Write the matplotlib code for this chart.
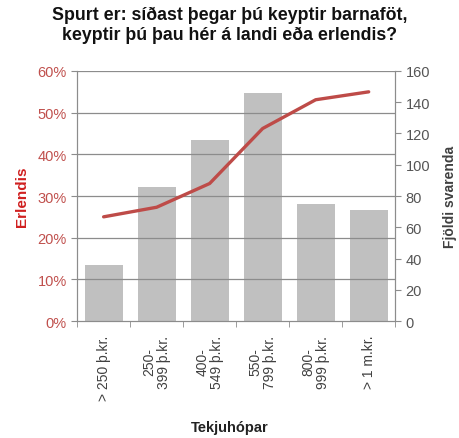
import matplotlib.pyplot as plt
import numpy as np

plt.rcParams['font.family'] = ['Liberation Sans', 'DejaVu Sans']

# Data
categories = ['> 250 þ.kr.', '250-\n399 þ.kr.', '400-\n549 þ.kr.',
              '550-\n799 þ.kr.', '800-\n999 þ.kr.', '> 1 m.kr.']
respondents = [36, 86, 116, 146, 75, 71]          # right axis, bars
abroad_pct = [25.0, 27.3, 33.0, 46.2, 53.1, 55.0]  # left axis, line

red = '#C0504D'
txt = '#404040'
grid = '#8C8C8C'

fig = plt.figure(figsize=(4.59, 4.39), dpi=100)
ax = fig.add_axes([0.168, 0.2665, 0.693, 0.5695])
ax2 = ax.twinx()

x = np.arange(len(categories))

# bars on the right axis, drawn behind the line
ax2.bar(x, respondents, width=0.72, color='#C0C0C0', zorder=1)
ax2.set_ylim(0, 160)
ax2.set_yticks(range(0, 161, 20))

ax.set_zorder(ax2.get_zorder() + 1)
ax.patch.set_visible(False)
ax.plot(x, abroad_pct, color='#BE4B48', linewidth=2.4, solid_capstyle='round', zorder=5)
ax.set_ylim(0, 60)
ax.set_xlim(-0.5, len(categories) - 0.5)
ax.set_yticks(range(0, 61, 10))
ax.set_yticklabels([f'{v}%' for v in range(0, 61, 10)])

# horizontal gridlines
for v in range(10, 61, 10):
    ax.axhline(v, color=grid, linewidth=0.9, zorder=0)

# x axis ticks at category boundaries
ax.set_xticks(x)
ax.set_xticklabels(categories, rotation=90, va='top', ha='center',
                   fontsize=10, color=txt, linespacing=1.0)
ax.tick_params(axis='x', length=0, pad=10)
ax.set_xticks(np.arange(-0.5, len(categories), 1), minor=True)
ax.tick_params(axis='x', which='minor', length=4, color=grid, direction='out')

ax.tick_params(axis='y', colors=red, labelsize=10.5, length=4, color=grid)
ax2.tick_params(axis='y', colors=txt, labelsize=10.5, length=4, color=grid)
ax2.tick_params(axis='y', labelcolor='#555555')

for a in (ax, ax2):
    a.spines['top'].set_visible(False)
    for s in ('left', 'right', 'bottom'):
        a.spines[s].set_color(grid)

ax.set_ylabel('Erlendis', color='#D02020', fontsize=11, fontweight='bold', labelpad=6)
ax2.set_ylabel('Fjöldi svarenda', color=txt, fontsize=10, fontweight='bold', labelpad=9)

fig.text(0.5, 0.025, 'Tekjuhópar', ha='center', va='center', fontsize=10.5,
         fontweight='bold', color='#222222')
fig.text(0.5, 0.985, 'Spurt er: síðast þegar þú keyptir barnaföt,\nkeyptir þú þau hér á landi eða erlendis?',
         ha='center', va='top', fontsize=12.8, fontweight='bold', color='#111111',
         linespacing=1.25)

fig.savefig('out.png', dpi=100)
